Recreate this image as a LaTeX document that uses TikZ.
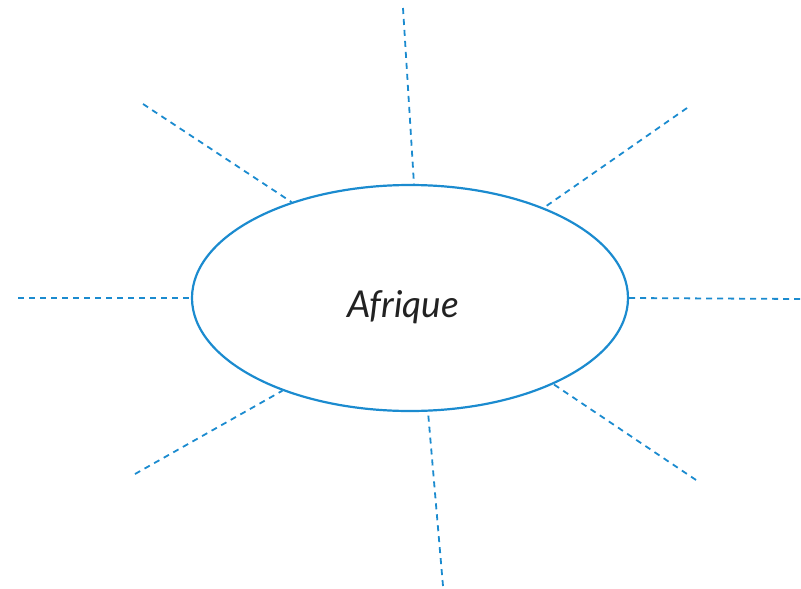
\documentclass[tikz,border=0pt]{standalone}
\usepackage{fontspec}
\setmainfont{Lato}
\usetikzlibrary{shapes.geometric}
\definecolor{rayblue}{HTML}{1B8BCF}
\definecolor{inkgray}{HTML}{222222}
\tikzset{
  hub/.style={draw=rayblue, line width=2.2pt, ellipse, inner sep=0pt,
    minimum width=436pt, minimum height=226pt},
  ray/.style={draw=rayblue, line width=1.8pt, dash pattern=on 6pt off 5pt},
  title/.style={text=inkgray, font=\fontsize{37}{44}\selectfont\itshape}
}
\begin{document}
\begin{tikzpicture}[x=1pt,y=-1pt]
  \useasboundingbox (0,0) rectangle (801,589);
  \node[hub] (e) at (410,298) {};
  \node[title] (t) at (403,307) {Afrique};
  % outer ends of the rays
  \coordinate (top) at (403,8);
  \coordinate (ul) at (143,104);
  \coordinate (ur) at (687,108);
  \coordinate (lft) at (18,298);
  \coordinate (rgt) at (800,299);
  \coordinate (ll) at (135,474);
  \coordinate (lr) at (696,480);
  \coordinate (bot) at (443,586);
  % rays from the outer ends to the ellipse
  \draw[ray] (top) -- (e.88.5);
  \draw[ray] (ul) -- (e.141.9);
  \draw[ray] (ur) -- (e.34.6);
  \draw[ray] (lft) -- (e.180.5);
  \draw[ray] (rgt) -- (e.-0.5);
  \draw[ray] (ll) -- (e.216.8);
  \draw[ray] (lr) -- (e.-31.9);
  \draw[ray] (bot) -- (e.-81);
\end{tikzpicture}
\end{document}
